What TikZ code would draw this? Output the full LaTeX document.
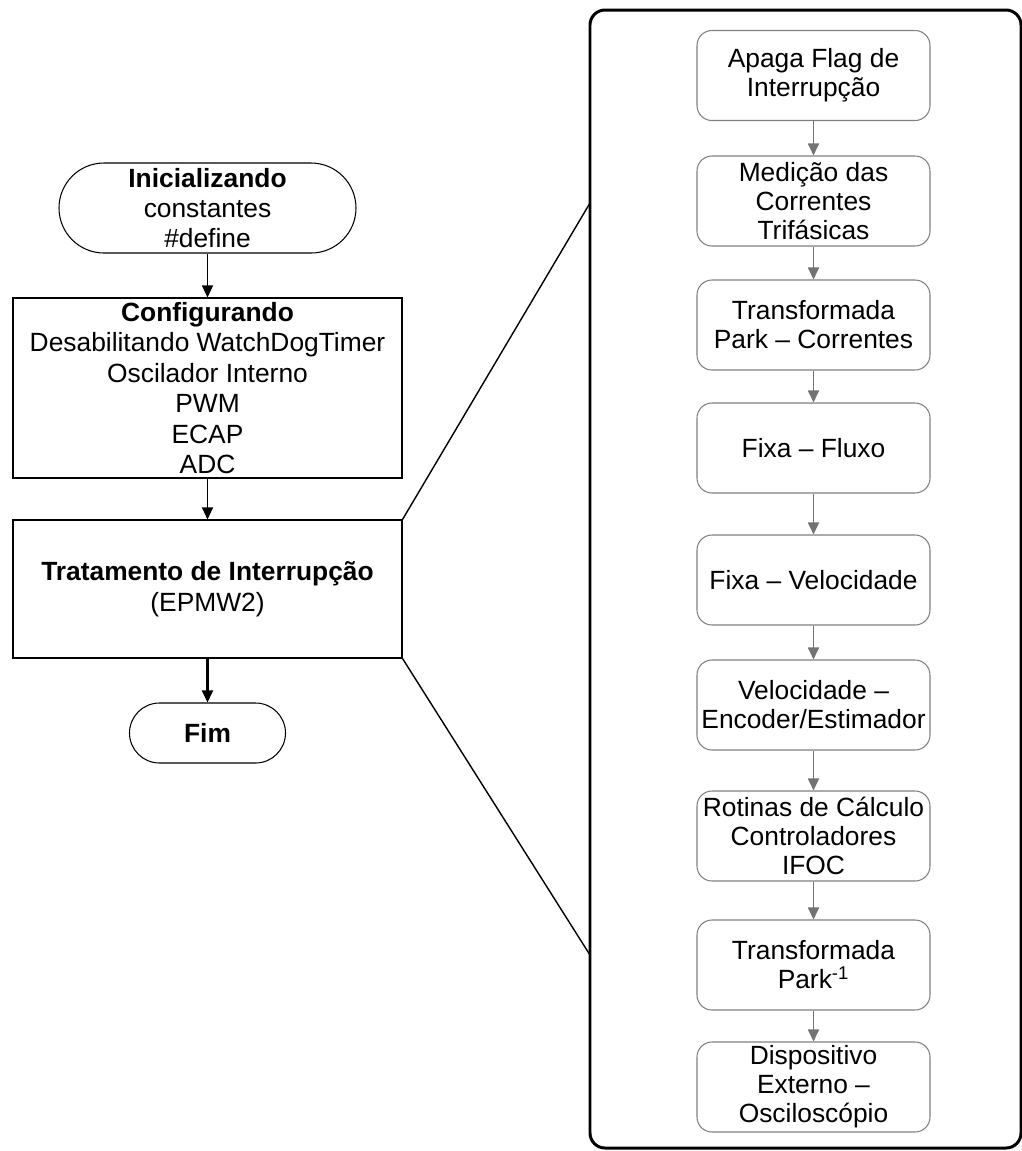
\documentclass[tikz,border=0pt]{standalone}
\usepackage{fontspec}
\setmainfont{Liberation Sans}
\usetikzlibrary{arrows.meta}

\begin{document}
\begin{tikzpicture}[
    inicio/.style={draw, line width=0.6pt, align=center, inner sep=1pt,
      font=\fontsize{15}{17.3}\selectfont},
    bloco/.style={draw, line width=0.6pt, minimum width=7.78cm, align=center,
      inner sep=1pt, font=\fontsize{15}{17.3}\selectfont},
    passo/.style={draw=black!50, line width=0.6pt, rounded corners=0.3cm,
      minimum width=4.66cm, minimum height=1.8cm, align=center, inner sep=1pt,
      font=\fontsize{15}{16.5}\selectfont},
    seta/.style={-{Triangle[width=0.22cm,length=0.24cm]}, line width=0.6pt},
    setacinza/.style={-{Triangle[width=0.22cm,length=0.24cm]}, line width=1pt,
      color=black!55}
  ]
          \useasboundingbox (0,0) rectangle (20.44,-23.02);

          % fluxo principal
          \node[inicio, rounded corners=0.9cm, minimum width=5.94cm,
            minimum height=1.8cm] (ini) at (4.15,-4.16)
            {\textbf{Inicializando}\\constantes\\\#define};
          \node[bloco, minimum height=3.6cm] (conf) at (4.15,-7.76)
            {\textbf{Configurando}\\Desabilitando WatchDogTimer\\Oscilador Interno\\PWM\\ECAP\\ADC};
          \node[bloco, minimum height=2.76cm] (trat) at (4.15,-11.78)
            {\textbf{Tratamento de Interrupção}\\(EPMW2)};
          \node[inicio, rounded corners=0.6cm, minimum width=3.12cm,
            minimum height=1.2cm] (fim) at (4.15,-14.66) {\textbf{Fim}};

          \draw[seta] (ini) -- (conf);
          \draw[seta] (conf) -- (trat);
          \draw[seta, line width=1.2pt] (trat) -- (fim);

          % detalhe da interrupcao
          \draw[line width=1.7pt, rounded corners=0.3cm] (11.8,-0.2) rectangle (20.42,-22.96);
          \coordinate (zoomtop) at (11.8,-4.06);
          \coordinate (zoombot) at (11.8,-19.1);
          \draw[line width=0.8pt] (trat.north east) -- (zoomtop);
          \draw[line width=0.8pt] (trat.south east) -- (zoombot);

          \node[passo] (p1) at (16.27,-1.51) {Apaga Flag de\\Interrupção};
          \node[passo] (p2) at (16.27,-4.02) {Medição das\\Correntes\\Trifásicas};
          \node[passo] (p3) at (16.27,-6.50) {Transformada\\Park – Correntes};
          \node[passo] (p4) at (16.27,-8.96) {Fixa – Fluxo};
          \node[passo] (p5) at (16.27,-11.60) {Fixa – Velocidade};
          \node[passo] (p6) at (16.27,-14.10) {Velocidade –\\Encoder/Estimador};
          \node[passo] (p7) at (16.27,-16.72) {Rotinas de Cálculo\\Controladores\\IFOC};
          \node[passo] (p8) at (16.27,-19.30) {Transformada\\Park\textsuperscript{-1}};
          \node[passo] (p9) at (16.27,-21.74) {Dispositivo\\Externo –\\Osciloscópio};

          \draw[setacinza] (p1) -- (p2);
          \draw[setacinza] (p2) -- (p3);
          \draw[setacinza] (p3) -- (p4);
          \draw[setacinza] (p4) -- (p5);
          \draw[setacinza] (p5) -- (p6);
          \draw[setacinza] (p6) -- (p7);
          \draw[setacinza] (p7) -- (p8);
          \draw[setacinza] (p8) -- (p9);

          \end{tikzpicture}
\end{document}
